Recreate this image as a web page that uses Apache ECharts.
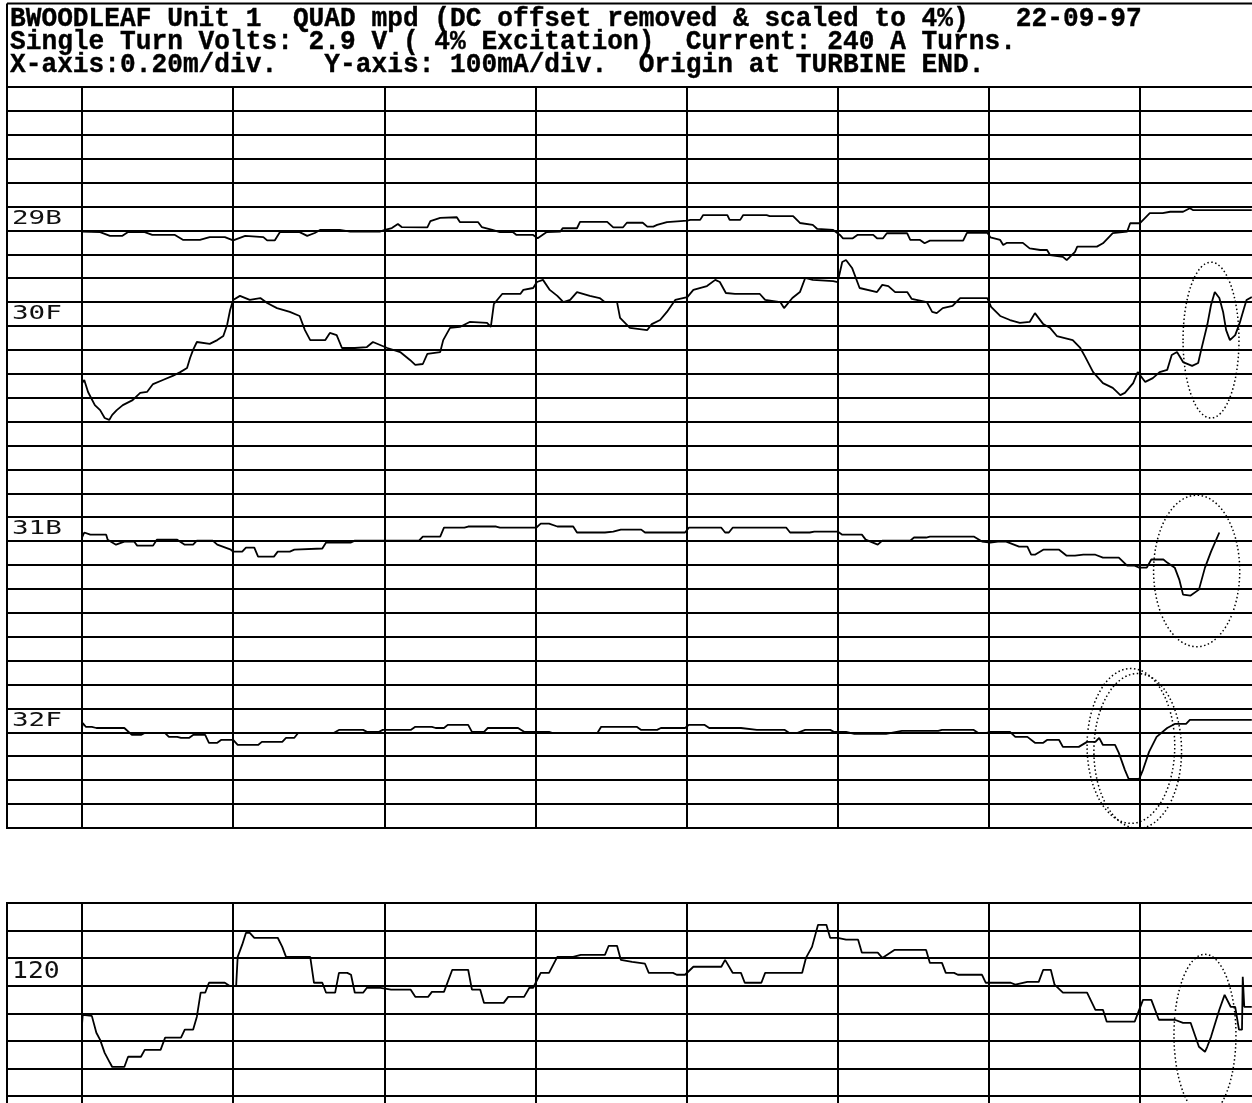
<!DOCTYPE html>
<html><head><meta charset="utf-8">
<script src="https://cdn.jsdelivr.net/npm/echarts@6/dist/echarts.min.js"></script>
<style>html,body{margin:0;padding:0;background:#fff}#c{width:1252px;height:1103px}</style>
</head><body><div id="c"></div>
<script>
// ---------------- DATA ----------------
const headerLines = [
  'BWOODLEAF Unit 1  QUAD mpd (DC offset removed & scaled to 4%)   22-09-97',
  'Single Turn Volts: 2.9 V ( 4% Excitation)  Current: 240 A Turns.',
  'X-axis:0.20m/div.   Y-axis: 100mA/div.  Origin at TURBINE END.'
];
// x in metres from turbine end, value in mA (deviation from trace baseline)
const xMin = 0, xMax = 1.6, xStep = 0.2;          // 0.20 m / div
const yStep = 100;                                 // 100 mA / div
const topMax = 3100, botMax = 800;                 // panel ranges (mA)
const traceNames = ['29B', '30F', '31B', '32F'];
const traceBaselines = [2500, 2100, 1200, 400];
const bottomName = '120';
const bottomBaseline = 500;

const trace29B = [[0.000,-5],[0.024,-7],[0.037,-23],[0.053,-23],[0.061,-7],[0.083,-7],[0.093,-19],[0.123,-19],[0.134,-40],[0.156,-40],[0.169,-28],[0.189,-28],[0.200,-42],[0.216,-23],[0.240,-28],[0.245,-42],[0.255,-42],[0.262,-7],[0.288,-7],[0.298,-23],[0.308,-11],[0.315,2],[0.341,2],[0.355,-5],[0.394,-5],[0.401,2],[0.410,10],[0.418,27],[0.423,14],[0.457,13],[0.461,39],[0.474,52],[0.496,55],[0.500,35],[0.524,35],[0.529,14],[0.543,2],[0.553,-7],[0.570,-7],[0.575,-19],[0.597,-19],[0.603,-33],[0.615,-7],[0.633,-5],[0.636,9],[0.655,9],[0.659,36],[0.695,36],[0.703,13],[0.716,13],[0.721,32],[0.742,32],[0.748,16],[0.756,16],[0.761,23],[0.774,35],[0.801,41],[0.805,44],[0.818,44],[0.822,64],[0.854,64],[0.857,44],[0.871,44],[0.875,64],[0.906,64],[0.910,60],[0.941,60],[0.950,31],[0.967,23],[0.973,6],[0.994,2],[1.003,-19],[1.007,-33],[1.020,-33],[1.026,-19],[1.047,-19],[1.052,-33],[1.060,-33],[1.065,-12],[1.092,-12],[1.096,-40],[1.109,-40],[1.115,-54],[1.122,-43],[1.166,-43],[1.171,-10],[1.198,-10],[1.202,-29],[1.215,-40],[1.219,-61],[1.224,-52],[1.245,-52],[1.254,-75],[1.268,-82],[1.277,-82],[1.281,-103],[1.298,-111],[1.303,-124],[1.314,-90],[1.317,-68],[1.343,-68],[1.351,-54],[1.364,-11],[1.383,-5],[1.387,30],[1.400,30],[1.413,72],[1.430,72],[1.440,78],[1.457,78],[1.466,93],[1.470,85],[1.548,85]];

const trace30F = [[0.000,-239],[0.003,-226],[0.008,-276],[0.017,-331],[0.024,-352],[0.030,-385],[0.036,-393],[0.040,-372],[0.046,-352],[0.054,-331],[0.067,-310],[0.077,-280],[0.086,-276],[0.094,-243],[0.107,-226],[0.120,-209],[0.130,-193],[0.139,-176],[0.143,-134],[0.147,-100],[0.152,-67],[0.169,-75],[0.179,-59],[0.187,-42],[0.192,4],[0.196,67],[0.200,109],[0.209,126],[0.222,109],[0.236,117],[0.245,96],[0.258,75],[0.275,59],[0.288,42],[0.295,-17],[0.302,-59],[0.322,-59],[0.328,-29],[0.337,-38],[0.344,-92],[0.361,-92],[0.377,-88],[0.385,-67],[0.404,-92],[0.421,-109],[0.434,-142],[0.441,-163],[0.451,-159],[0.457,-117],[0.474,-109],[0.478,-59],[0.487,-8],[0.500,-4],[0.513,17],[0.536,13],[0.541,-4],[0.545,92],[0.556,134],[0.580,134],[0.584,151],[0.597,159],[0.602,184],[0.610,193],[0.619,151],[0.629,126],[0.637,100],[0.646,109],[0.655,142],[0.672,126],[0.685,117],[0.692,100],[0.708,100],[0.712,34],[0.725,-8],[0.748,-17],[0.754,8],[0.765,25],[0.774,59],[0.785,109],[0.801,121],[0.809,151],[0.827,167],[0.838,193],[0.844,184],[0.852,138],[0.864,134],[0.897,134],[0.904,109],[0.924,100],[0.929,75],[0.940,117],[0.950,142],[0.957,201],[0.967,193],[0.994,188],[1.000,184],[1.006,268],[1.011,276],[1.019,243],[1.029,159],[1.052,142],[1.059,172],[1.067,167],[1.076,142],[1.092,142],[1.098,113],[1.118,100],[1.125,59],[1.131,54],[1.139,75],[1.152,84],[1.162,117],[1.198,117],[1.203,80],[1.215,42],[1.228,25],[1.241,13],[1.254,17],[1.261,54],[1.272,8],[1.281,-8],[1.290,-42],[1.311,-59],[1.321,-92],[1.327,-126],[1.338,-193],[1.351,-239],[1.364,-259],[1.374,-289],[1.380,-280],[1.391,-239],[1.397,-193],[1.407,-234],[1.417,-218],[1.426,-193],[1.436,-184],[1.442,-121],[1.449,-109],[1.457,-151],[1.469,-167],[1.477,-155],[1.481,-100],[1.489,4],[1.494,88],[1.499,142],[1.505,117],[1.510,59],[1.514,-17],[1.519,-59],[1.526,-38],[1.532,13],[1.537,67],[1.541,109],[1.548,121]];

const trace31B = [[0.000,15],[0.003,36],[0.011,27],[0.032,27],[0.034,6],[0.045,-15],[0.056,-2],[0.069,-2],[0.073,-19],[0.094,-19],[0.099,6],[0.126,6],[0.136,-15],[0.147,-15],[0.152,2],[0.173,2],[0.179,-15],[0.197,-36],[0.200,-44],[0.212,-44],[0.217,-27],[0.228,-27],[0.233,-65],[0.254,-65],[0.259,-44],[0.275,-44],[0.281,-36],[0.318,-31],[0.323,-6],[0.356,-6],[0.361,2],[0.446,2],[0.451,19],[0.474,19],[0.479,56],[0.506,56],[0.511,61],[0.548,61],[0.553,56],[0.601,56],[0.607,73],[0.618,73],[0.629,61],[0.650,61],[0.655,36],[0.692,36],[0.703,40],[0.713,48],[0.740,48],[0.745,36],[0.798,36],[0.803,56],[0.846,56],[0.851,36],[0.856,36],[0.861,56],[0.932,56],[0.937,36],[0.963,36],[0.969,40],[1.000,40],[1.006,27],[1.032,27],[1.037,6],[1.053,-15],[1.059,2],[1.096,2],[1.101,15],[1.117,15],[1.122,19],[1.180,19],[1.191,-2],[1.202,-6],[1.212,-2],[1.223,-2],[1.240,-23],[1.251,-23],[1.256,-57],[1.261,-57],[1.272,-36],[1.293,-36],[1.303,-61],[1.314,-61],[1.325,-57],[1.341,-57],[1.351,-69],[1.372,-69],[1.383,-103],[1.393,-103],[1.399,-111],[1.409,-111],[1.415,-77],[1.431,-77],[1.436,-90],[1.446,-111],[1.452,-161],[1.457,-224],[1.467,-228],[1.478,-203],[1.486,-111],[1.494,-44],[1.505,36]];

const trace32F = [[0.000,18],[0.001,39],[0.005,23],[0.013,23],[0.019,18],[0.056,18],[0.066,-11],[0.078,-11],[0.083,-3],[0.110,-3],[0.115,-19],[0.126,-19],[0.131,-23],[0.142,-23],[0.147,-11],[0.163,-11],[0.168,-44],[0.179,-44],[0.184,-32],[0.200,-32],[0.206,-53],[0.233,-53],[0.238,-40],[0.265,-40],[0.270,-23],[0.281,-23],[0.286,-3],[0.333,-3],[0.340,10],[0.372,10],[0.377,2],[0.393,2],[0.398,10],[0.435,10],[0.441,23],[0.463,23],[0.468,18],[0.479,18],[0.484,31],[0.511,31],[0.516,2],[0.532,2],[0.537,18],[0.577,18],[0.585,2],[0.618,2],[0.623,-3],[0.682,-3],[0.687,23],[0.734,23],[0.740,10],[0.761,10],[0.766,18],[0.798,18],[0.803,31],[0.824,31],[0.830,18],[0.872,18],[0.893,10],[0.930,10],[0.936,-3],[0.946,-3],[0.957,10],[0.990,10],[0.995,2],[1.011,2],[1.022,-7],[1.064,-7],[1.085,6],[1.133,6],[1.138,10],[1.180,10],[1.186,-3],[1.196,-3],[1.202,2],[1.228,2],[1.235,-19],[1.251,-19],[1.261,-44],[1.272,-44],[1.277,-32],[1.293,-32],[1.298,-61],[1.319,-61],[1.330,-40],[1.341,-40],[1.346,-23],[1.351,-53],[1.367,-53],[1.372,-86],[1.380,-157],[1.385,-195],[1.399,-195],[1.404,-157],[1.412,-82],[1.422,-19],[1.436,18],[1.446,35],[1.461,35],[1.466,52],[1.548,52]];

const trace120 = [[0.000,-141],[0.001,-105],[0.003,-109],[0.013,-109],[0.019,-170],[0.024,-196],[0.030,-243],[0.037,-279],[0.040,-294],[0.056,-294],[0.061,-257],[0.078,-257],[0.083,-232],[0.104,-232],[0.110,-188],[0.131,-188],[0.136,-159],[0.147,-159],[0.152,-112],[0.157,-25],[0.163,-25],[0.168,11],[0.189,11],[0.195,0],[0.204,0],[0.206,105],[0.212,149],[0.217,192],[0.222,192],[0.228,174],[0.259,174],[0.265,141],[0.270,105],[0.302,105],[0.307,11],[0.318,11],[0.323,-25],[0.335,-25],[0.340,47],[0.351,47],[0.356,40],[0.361,-25],[0.372,-25],[0.377,-7],[0.393,-7],[0.409,-14],[0.435,-14],[0.441,-40],[0.458,-40],[0.463,-22],[0.479,-22],[0.490,58],[0.511,58],[0.516,-14],[0.527,-14],[0.532,-62],[0.558,-62],[0.564,-40],[0.585,-40],[0.592,-7],[0.597,-7],[0.607,47],[0.618,47],[0.629,105],[0.650,105],[0.660,112],[0.692,112],[0.697,145],[0.708,145],[0.713,94],[0.728,87],[0.745,80],[0.750,47],[0.782,47],[0.787,40],[0.798,40],[0.809,69],[0.846,69],[0.851,94],[0.861,47],[0.872,47],[0.877,11],[0.899,11],[0.904,47],[0.953,47],[0.958,101],[0.966,141],[0.974,221],[0.985,221],[0.990,174],[1.000,174],[1.011,167],[1.027,167],[1.032,120],[1.053,120],[1.059,101],[1.075,130],[1.117,130],[1.122,83],[1.138,83],[1.143,47],[1.154,47],[1.159,40],[1.191,40],[1.196,11],[1.229,11],[1.235,4],[1.251,14],[1.266,14],[1.272,58],[1.282,58],[1.287,4],[1.298,-25],[1.330,-25],[1.341,-87],[1.351,-87],[1.356,-130],[1.393,-130],[1.404,-51],[1.415,-51],[1.425,-123],[1.446,-123],[1.457,-134],[1.467,-134],[1.478,-221],[1.486,-239],[1.489,-221],[1.494,-185],[1.505,-87],[1.512,-33],[1.520,-76],[1.526,-76],[1.531,-159],[1.535,-159],[1.536,33],[1.538,-76],[1.548,-76]];

// dotted ellipse annotations: centre (m, mA on panel axis), radii (m, mA)
const annotations = [
  { panel: 'top', x: 1.494, y: 2041, rx: 0.037, ry: 326 },
  { panel: 'top', x: 1.475, y: 1075, rx: 0.057, ry: 317 },
  { panel: 'top', x: 1.388, y: 343,  rx: 0.058, ry: 324 },
  { panel: 'top', x: 1.397, y: 322,  rx: 0.058, ry: 324 },
  { panel: 'bottom', x: 1.486, y: 322, rx: 0.041, ry: 292 }
];

// ---------------- LAYOUT ----------------
const PXM = 151.14 / xStep;         // px per metre
const X0 = 82, LEFT = 7;
const TOP_Y = 87, TOP_DIV = 23.9;
const BOT_Y = 903, BOT_DIV = 27.6;
const topH = (topMax / yStep) * TOP_DIV;
const botH = (botMax / yStep) * BOT_DIV;
const dataW = (xMax - xMin) * PXM;

const black = '#000';
const gridLine = { show: true, lineStyle: { color: black, width: 2 } };
const hidden = { axisLine: { show: false }, axisTick: { show: false }, axisLabel: { show: false } };

const chart = echarts.init(document.getElementById('c'), null, { renderer: 'canvas' });

function frameGrid(top, h) {
  return { left: LEFT, top: top, width: 1400, height: h, show: true, borderColor: black, borderWidth: 2,
           backgroundColor: 'transparent', containLabel: false, outerBoundsMode: 'none' };
}
function dataGrid(top, h) {
  return { left: X0, top: top, width: dataW, height: h, show: false, containLabel: false, outerBoundsMode: 'none' };
}
function mkSeries(name, arr, base, axisIdx) {
  return {
    name: name, type: 'line', xAxisIndex: axisIdx, yAxisIndex: axisIdx,
    data: arr.map(p => [p[0], base + p[1]]),
    showSymbol: false, symbol: 'none', silent: true, animation: false, z: 5,
    lineStyle: { color: black, width: 1.8 }
  };
}
const topTraces = [trace29B, trace30F, trace31B, trace32F];

chart.setOption({
  animation: false,
  backgroundColor: '#fff',
  grid: [frameGrid(TOP_Y, topH), dataGrid(TOP_Y, topH), frameGrid(BOT_Y, botH), dataGrid(BOT_Y, botH)],
  xAxis: [
    { gridIndex: 0, type: 'value', min: 0, max: 1, show: false },
    Object.assign({ gridIndex: 1, type: 'value', min: xMin, max: xMax, interval: xStep, splitLine: gridLine }, hidden),
    { gridIndex: 2, type: 'value', min: 0, max: 1, show: false },
    Object.assign({ gridIndex: 3, type: 'value', min: xMin, max: xMax, interval: xStep, splitLine: gridLine }, hidden)
  ],
  yAxis: [
    Object.assign({ gridIndex: 0, type: 'value', min: 0, max: topMax, interval: yStep, splitLine: gridLine }, hidden),
    { gridIndex: 1, type: 'value', min: 0, max: topMax, show: false },
    Object.assign({ gridIndex: 2, type: 'value', min: 0, max: botMax, interval: yStep, splitLine: gridLine }, hidden),
    { gridIndex: 3, type: 'value', min: 0, max: botMax, show: false }
  ],
  series: traceNames.map((n, i) => mkSeries(n, topTraces[i], traceBaselines[i], 1))
    .concat([mkSeries(bottomName, trace120, bottomBaseline, 3)])
});

// ---------------- DECORATION (positions derived from the axes) ----------------
const graphics = [];
// header box
graphics.push({ type: 'line', z: 10, shape: { x1: LEFT, y1: 3.5, x2: 1252, y2: 3.5 }, style: { stroke: black, lineWidth: 2 } });
graphics.push({ type: 'line', z: 10, shape: { x1: LEFT, y1: 3.5, x2: LEFT, y2: TOP_Y }, style: { stroke: black, lineWidth: 2 } });
headerLines.forEach((t, i) => {
  graphics.push({ type: 'text', z: 10, x: 10, y: 19 + i * 23, scaleX: 0.970,
    style: { text: t, font: 'bold 27px "Liberation Mono", "Courier New", monospace', fill: black,
             stroke: black, lineWidth: 0.4,
             verticalAlign: 'middle', textVerticalAlign: 'middle' } });
});
// trace labels, centred in the division above each baseline
traceNames.forEach((n, i) => {
  const y = chart.convertToPixel({ yAxisIndex: 1 }, traceBaselines[i] + yStep / 2);
  graphics.push({ type: 'text', z: 10, x: 12, y: y, scaleX: 1.38,
    style: { text: n, font: '20px "DejaVu Sans Mono", monospace', fill: '#111',
             verticalAlign: 'middle', textVerticalAlign: 'middle' } });
});
{
  const y = chart.convertToPixel({ yAxisIndex: 3 }, bottomBaseline + yStep / 2);
  graphics.push({ type: 'text', z: 10, x: 12, y: y, scaleX: 1.15,
    style: { text: bottomName, font: '23px "DejaVu Sans Mono", monospace', fill: '#111',
             verticalAlign: 'middle', textVerticalAlign: 'middle' } });
}
// dotted ellipses
annotations.forEach(a => {
  const idx = a.panel === 'top' ? 1 : 3;
  const c = chart.convertToPixel({ xAxisIndex: idx, yAxisIndex: idx }, [a.x, a.y]);
  const e = chart.convertToPixel({ xAxisIndex: idx, yAxisIndex: idx }, [a.x + a.rx, a.y + a.ry]);
  graphics.push({ type: 'ellipse', z: 10,
    shape: { cx: c[0], cy: c[1], rx: Math.abs(e[0] - c[0]), ry: Math.abs(c[1] - e[1]) },
    style: { fill: 'transparent', stroke: black, lineWidth: 1.5, lineDash: [1.5, 2.5] } });
});
chart.setOption({ graphic: graphics });
</script>
</body></html>
